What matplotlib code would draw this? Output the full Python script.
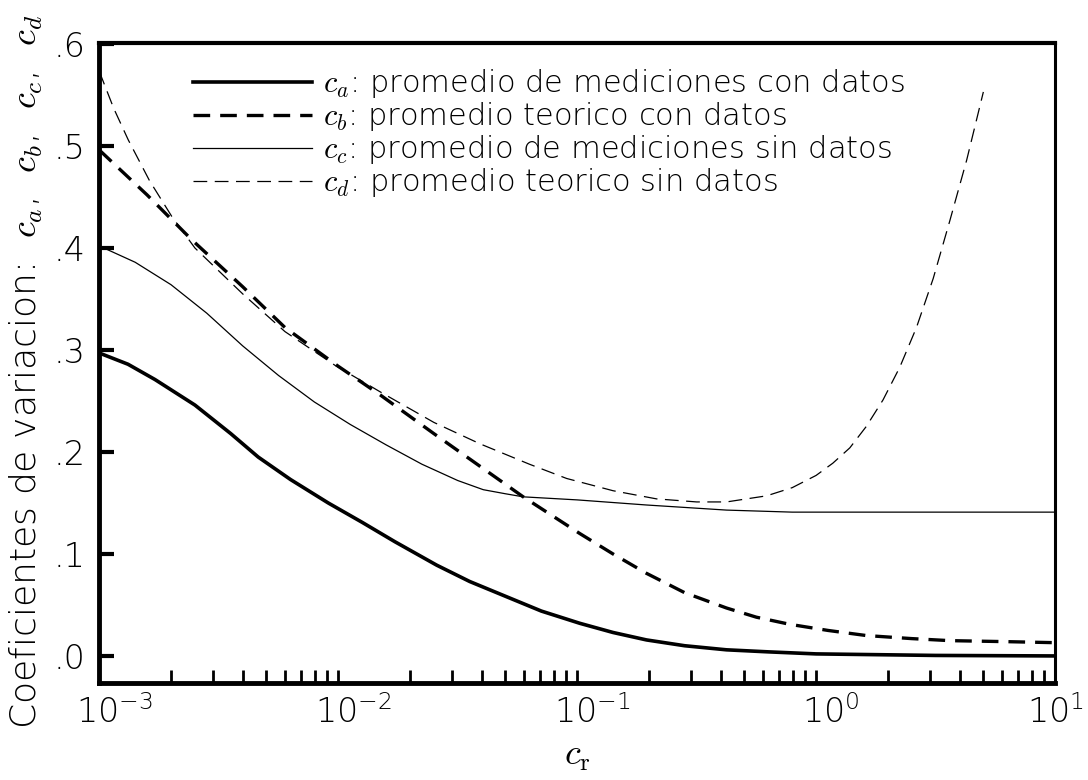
import numpy as np
import matplotlib
matplotlib.use("Agg")
import matplotlib.pyplot as plt
import matplotlib.transforms as mtransforms
from matplotlib.ticker import FixedLocator, NullFormatter

plt.rcParams['font.family'] = ['DejaVu Sans']
plt.rcParams['mathtext.fontset'] = 'cm'

# log10(c_r) y valor de cada coeficiente
log_a = [-3.0, -2.88, -2.767, -2.6, -2.45, -2.335, -2.2, -2.042, -1.9, -1.763, -1.588, -1.45, -1.295, -1.15, -0.989, -0.85, -0.71, -0.55, -0.375, -0.2, 0.0, 0.5, 1.0]
c_a = [0.297, 0.286, 0.271, 0.246, 0.218, 0.195, 0.173, 0.150, 0.131, 0.112, 0.089, 0.073, 0.058, 0.044, 0.032, 0.023, 0.0157, 0.010, 0.006, 0.004, 0.002, 0.0005, 0.0]

log_b = [-3.0, -2.8, -2.613, -2.4, -2.223, -2.0, -1.825, -1.6, -1.407, -1.226, -0.989, -0.85, -0.71, -0.55, -0.375, -0.25, -0.11, 0.05, 0.21, 0.4, 0.56, 0.8, 1.0]
c_b = [0.496, 0.452, 0.408, 0.362, 0.322, 0.284, 0.256, 0.218, 0.186, 0.156, 0.120, 0.100, 0.081, 0.062, 0.047, 0.038, 0.031, 0.025, 0.020, 0.017, 0.015, 0.014, 0.013]

log_c = [-3.0, -2.85, -2.7, -2.55, -2.4, -2.25, -2.1, -1.95, -1.8, -1.65, -1.5, -1.393, -1.3, -1.226, -1.0, -0.71, -0.375, -0.1, 0.3, 1.0]
c_c = [0.402, 0.386, 0.364, 0.336, 0.304, 0.275, 0.249, 0.227, 0.207, 0.188, 0.172, 0.163, 0.159, 0.156, 0.153, 0.148, 0.143, 0.141, 0.141, 0.141]

log_d = [-3.0, -2.94, -2.879, -2.79, -2.697, -2.6, -2.4, -2.223, -2.014, -1.825, -1.6, -1.407, -1.2, -1.044, -0.85, -0.668, -0.5, -0.375, -0.207, -0.1, 0.0, 0.07, 0.141, 0.21, 0.28, 0.35, 0.42, 0.49, 0.56, 0.63, 0.70]
c_d = [0.573, 0.537, 0.506, 0.466, 0.431, 0.400, 0.355, 0.318, 0.285, 0.259, 0.229, 0.208, 0.188, 0.174, 0.162, 0.154, 0.151, 0.151, 0.157, 0.165, 0.177, 0.189, 0.204, 0.225, 0.251, 0.283, 0.322, 0.370, 0.427, 0.486, 0.553]

labels = [r'$c_a$: promedio de mediciones con datos',
          r'$c_b$: promedio teorico con datos',
          r'$c_c$: promedio de mediciones sin datos',
          r'$c_d$: promedio teorico sin datos']

x_ticks = [1e-3, 1e-2, 1e-1, 1e0, 1e1]
x_tick_labels = [r'$\mathregular{10^{-3}}$', r'$\mathregular{10^{-2}}$', r'$\mathregular{10^{-1}}$',
                 r'$\mathregular{10^{0}}$', r'$\mathregular{10^{1}}$']
y_ticks = [0.0, 0.1, 0.2, 0.3, 0.4, 0.5, 0.6]
y_tick_labels = ['.0', '.1', '.2', '.3', '.4', '.5', '.6']

fig = plt.figure(figsize=(10.88, 7.8), dpi=100)
ax = fig.add_axes([0.0913, 0.1244, 0.8784, 0.8205])

ax.plot(10**np.array(log_a), c_a, color='black', linewidth=2.6, linestyle='-', label=labels[0])
ax.plot(10**np.array(log_b), c_b, color='black', linewidth=2.4, linestyle=(0, (5, 3)), label=labels[1])
ax.plot(10**np.array(log_c), c_c, color='black', linewidth=0.9, linestyle='-', label=labels[2])
ax.plot(10**np.array(log_d), c_d, color='black', linewidth=0.9, linestyle=(0, (11, 6)), label=labels[3])

ax.set_xscale('log')
ax.set_xlim(1e-3, 1e1)
ax.set_ylim(-0.0265, 0.601)

# marcas del eje x: 1..9 por decada, todas iguales
ax.set_xticks(x_ticks)
ax.set_xticklabels(x_tick_labels)
ax.xaxis.set_minor_locator(FixedLocator([m * 10.0**e for e in range(-3, 1) for m in range(2, 10)]))
ax.xaxis.set_minor_formatter(NullFormatter())
ax.tick_params(axis='x', which='both', direction='in', length=9.5, width=2.0, top=False, pad=9, labelsize=24)
ax.set_yticks(y_ticks)
ax.set_yticklabels(y_tick_labels)
ax.tick_params(axis='y', which='both', direction='in', length=11, width=3.0, right=False, pad=10, labelsize=24)

# el "10" de cada etiqueta queda centrado bajo su marca (la ultima, pegada al borde)
xlabels = ax.get_xticklabels()
for i, lab in enumerate(xlabels):
    dx = 0.15 if i < len(xlabels) - 1 else 0.0
    lab.set_fontweight('light')
    lab.set_transform(lab.get_transform() + mtransforms.ScaledTranslation(dx, 0, fig.dpi_scale_trans))
for lab in ax.get_yticklabels():
    lab.set_fontweight('light')

ax.spines['left'].set_linewidth(3.5)
ax.spines['bottom'].set_linewidth(3.5)
ax.spines['top'].set_linewidth(3.0)
ax.spines['right'].set_linewidth(2.2)

ax.set_xlabel(r'$c_\mathrm{r}$', fontsize=26)
ax.xaxis.set_label_coords(0.5, -0.088)
ax.set_ylabel(r'Coeficientes de variacion:  $c_a$,  $c_b$,  $c_c$,  $c_d$', fontsize=26, fontweight='light')
ax.yaxis.set_label_coords(-0.057, 0.486)

leg = ax.legend(loc='upper left', bbox_to_anchor=(0.098, 0.962), frameon=False,
                handlelength=3.9, handletextpad=0.35, labelspacing=0.0,
                borderpad=0.0, borderaxespad=0.0, prop={'size': 22, 'weight': 'light'})

plt.savefig('out.png', dpi=100)
